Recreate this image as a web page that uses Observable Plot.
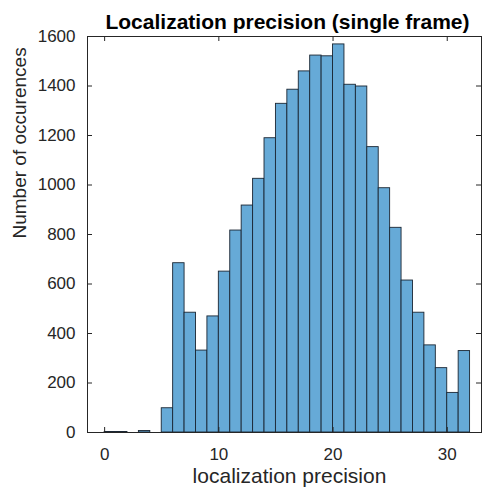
<!DOCTYPE html>
<html>
<head>
<meta charset="utf-8">
<script src="https://cdn.jsdelivr.net/npm/d3@7"></script>
<script src="https://cdn.jsdelivr.net/npm/@observablehq/plot@0.6"></script>
<style>
  html, body { margin: 0; padding: 0; background: white; }
  #chart { width: 487px; height: 489px; }
</style>
</head>
<body>
<div id="chart"></div>
<script>
// ---- data ----
const binStart = [0, 1, 2, 3, 4, 5, 6, 7, 8, 9, 10, 11, 12, 13, 14, 15, 16, 17, 18, 19, 20, 21, 22, 23, 24, 25, 26, 27, 28, 29, 30, 31];
const counts   = [2, 2, 0, 6, 0, 98, 684, 484, 331, 469, 650, 816, 917, 1025, 1189, 1328, 1385, 1459, 1523, 1520, 1568, 1405, 1398, 1153, 987, 827, 614, 484, 352, 260, 160, 329];
const binWidth = 1;
const xTicks = [0, 10, 20, 30];
const yTicks = [0, 200, 400, 600, 800, 1000, 1200, 1400, 1600];
const xDomain = [-1.5, 33];
const yDomain = [0, 1600];
const titleText = "Localization precision (single frame)";
const xLabel = "localization precision";
const yLabel = "Number of occurences";

// ---- layout ----
const W = 487, H = 489;
const mL = 87, mR = 6, mT = 36, mB = 57;
const fw = W - mL - mR, fh = H - mT - mB;
const tickLen = 5;
const axisColor = "#262626";

const bars = binStart
  .map((x, i) => ({x1: x, x2: x + binWidth, y: counts[i]}))
  .filter(d => d.y > 0);

const chart = Plot.plot({
  width: W,
  height: H,
  marginLeft: mL,
  marginRight: mR,
  marginTop: mT,
  marginBottom: mB,
  x: {domain: xDomain, axis: null},
  y: {domain: yDomain, axis: null},
  style: {
    fontFamily: "'Liberation Sans', Arial, Helvetica, sans-serif",
    fontSize: "17px",
    background: "white",
    color: axisColor
  },
  marks: [
    Plot.rectY(bars, {x1: "x1", x2: "x2", y: "y", fill: "#66aad7", stroke: "#1a2633", strokeWidth: 0.9}),
    Plot.frame({stroke: axisColor, strokeWidth: 1}),
    // inside ticks on all four sides
    Plot.tickX(xTicks, {x: d => d, insetTop: fh - tickLen, stroke: axisColor}),
    Plot.tickX(xTicks, {x: d => d, insetBottom: fh - tickLen, stroke: axisColor}),
    Plot.tickY(yTicks, {y: d => d, insetRight: fw - tickLen, stroke: axisColor}),
    Plot.tickY(yTicks, {y: d => d, insetLeft: fw - tickLen, stroke: axisColor}),
    Plot.axisX({ticks: xTicks, tickSize: 0, tickPadding: 15, label: null, tickFormat: d => String(d), fill: axisColor}),
    Plot.axisY({ticks: yTicks, tickSize: 0, tickPadding: 12, label: null, tickFormat: d => String(d), fill: axisColor}),
    Plot.text([titleText], {
      frameAnchor: "top", lineAnchor: "bottom", dy: -8, dx: 3,
      fontSize: 21, fontWeight: "bold", fill: "#000", letterSpacing: "0.5px"
    }),
    Plot.text([xLabel], {
      frameAnchor: "bottom", lineAnchor: "bottom", dy: 50, dx: 5,
      fontSize: 21, fill: axisColor, letterSpacing: "0.8px"
    }),
    Plot.text([yLabel], {
      frameAnchor: "left", lineAnchor: "bottom", rotate: -90, dx: -62, dy: 4,
      fontSize: 19, fill: axisColor
    })
  ]
});

document.getElementById("chart").appendChild(chart);
</script>
</body>
</html>
